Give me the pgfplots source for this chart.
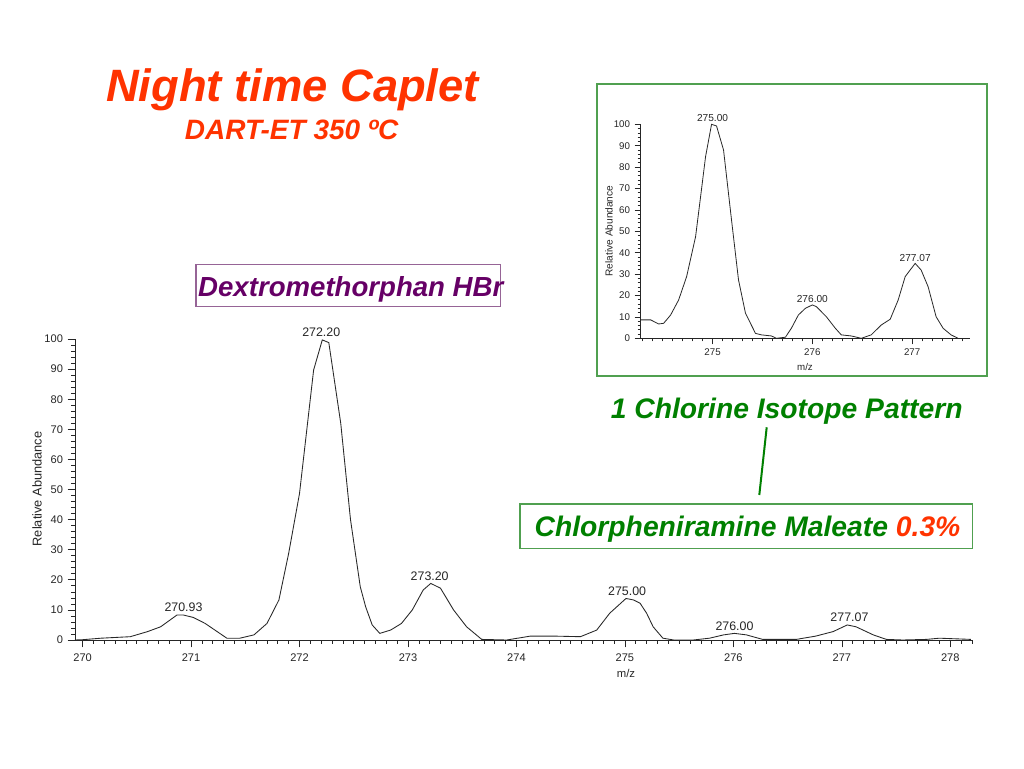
\documentclass[border=0pt]{standalone}
\usepackage{pgfplots}
\pgfplotsset{compat=1.18}
\usepackage{fontspec}
\setmainfont{Liberation Sans}
\definecolor{titlered}{RGB}{255,51,0}
\definecolor{dgreen}{RGB}{0,128,0}
\definecolor{boxgreen}{RGB}{80,160,80}
\definecolor{dpurple}{RGB}{102,0,102}
\definecolor{boxpurple}{RGB}{150,100,150}
\definecolor{specline}{RGB}{40,40,40}

\pgfplotstableread{
x y
269.93 0
270.00 0.1
270.17 0.6
270.44 1.1
270.60 2.8
270.72 4.4
270.87 8.3
270.93 8.3
271.02 7.5
271.13 5.5
271.33 0.6
271.45 0.6
271.58 1.7
271.70 5.5
271.81 13.3
271.90 28.8
272.00 48.7
272.13 89.7
272.21 99.7
272.27 98.8
272.33 84.2
272.38 72
272.47 40
272.56 17.7
272.61 11
272.67 5
272.74 2.2
272.84 3.3
272.94 5.5
273.04 10
273.14 16.6
273.21 18.8
273.30 17.2
273.42 10
273.54 4.4
273.68 0.2
273.91 0
274.13 1.3
274.34 1.3
274.59 1.1
274.74 3.3
274.86 8.9
275.01 13.8
275.08 13.3
275.14 12.2
275.20 8.9
275.26 4.4
275.35 0.6
275.45 0
275.63 0
275.78 0.6
275.91 1.7
276.01 2.2
276.12 1.7
276.27 0.2
276.58 0.2
276.76 1.3
276.92 2.8
277.05 5
277.13 4.4
277.29 1.7
277.41 0.2
277.56 0
277.78 0.2
277.90 0.6
278.19 0.2
}\mainspec

\pgfplotstableread{
x y
274.28 8.6
274.38 8.6
274.46 6.7
274.51 7.0
274.58 10.9
274.66 17.9
274.74 28.8
274.83 47.5
274.93 84.9
274.99 100
275.04 99.2
275.11 88
275.19 55.3
275.26 27.3
275.33 11.7
275.43 2.3
275.49 1.6
275.59 1.1
275.64 0
275.73 0.5
275.79 4.7
275.86 10.9
275.93 14
276.00 15.6
276.04 14.8
276.14 10.1
276.23 4.7
276.29 1.6
276.39 1.1
276.49 0
276.59 1.6
276.69 6.2
276.78 8.9
276.86 17.9
276.93 28.8
277.03 35
277.09 31.9
277.16 24.1
277.24 10.1
277.31 4.7
277.39 1.6
277.46 0
}\insetspec

\begin{document}
\begin{tikzpicture}
\begin{scope}[x=0.75pt,y=0.75pt]
\path[use as bounding box, fill=white] (0,0) rectangle (1024,768);

% titles
\node[anchor=base, text=titlered, font=\fontsize{34}{40}\selectfont\bfseries\itshape, inner sep=0pt] at (292.5,{768-101.7}) {Night time Caplet};
\node[anchor=base, text=titlered, font=\fontsize{21}{25}\selectfont\bfseries\itshape, inner sep=0pt] at (291.7,{768-139.3}) {DART-ET 350 ºC};

% Dextromethorphan box
\draw[boxpurple, line width=0.9] (196,{768-264.3}) rectangle (500.7,{768-306.7});
\node[anchor=base, text=dpurple, font=\fontsize{20.7}{25}\selectfont\bfseries\itshape, inner sep=0pt] at (350.8,{768-296.7}) {Dextromethorphan HBr};

% Chlorine pattern text and line
\node[anchor=base, text=dgreen, font=\fontsize{21.2}{25}\selectfont\bfseries\itshape, inner sep=0pt] at (786.7,{768-418.3}) {1 Chlorine Isotope Pattern};
\draw[dgreen, line width=1.5] (766.7,{768-427.3}) -- (759.3,{768-495});
\draw[boxgreen, line width=1] (520,{768-504}) rectangle (972.7,{768-548.3});
\node[anchor=base, font=\fontsize{21.2}{25}\selectfont\bfseries\itshape, inner sep=0pt] at (747.5,{768-536.7}) {\textcolor{dgreen}{Chlorpheniramine Maleate }\textcolor{titlered}{0.3\%}};

% inset frame
\draw[boxgreen, line width=1.2] (597,{768-84}) rectangle (987,{768-376});

% axis labels
\node[rotate=90, font=\fontsize{9.6}{11}\selectfont, text=black!85] at (37,{768-489}) {Relative Abundance};
\node[font=\fontsize{8.5}{10}\selectfont, text=black!85] at (626,{768-673}) {m/z};
\node[rotate=90, font=\fontsize{7.6}{9}\selectfont, text=black!85] at (609,{768-231}) {Relative Abundance};
\node[font=\fontsize{7.3}{9}\selectfont, text=black!85] at (805,{768-367}) {m/z};
\end{scope}

% main spectrum
\begin{axis}[
  at={(56.25pt,96pt)}, anchor=south west, scale only axis,
  width=672.75pt, height=225.75pt,
  xmin=269.93, xmax=278.2, ymin=0, ymax=100,
  axis lines=left, axis line style={-, black!85, line width=0.6pt},
  tick align=outside,
  xtick={270,271,...,278}, ytick={0,10,...,100},
  minor xtick={269.9,270.0,...,278.2},
  minor ytick={0,2,...,100},
  major tick length=5.5pt, minor tick length=2.8pt,
  every tick/.style={black!85, line width=0.5pt},
  tick label style={font=\fontsize{8.3}{10}\selectfont, text=black!85},
  /pgf/number format/assume math mode=true,
  xticklabel style={yshift=-1pt},
  clip=false,
]
\addplot[specline, line width=0.65pt, mark=none] table[x=x,y=y] {\mainspec};
\begin{scope}[every node/.style={anchor=south, font=\fontsize{9.3}{11}\selectfont, text=black!85, inner sep=2pt}]
\node at (axis cs:270.93,8.3) {270.93};
\node at (axis cs:272.20,99.7) {272.20};
\node at (axis cs:273.20,18.8) {273.20};
\node at (axis cs:275.02,13.8) {275.00};
\node at (axis cs:276.01,2.2) {276.00};
\node at (axis cs:277.07,5.0) {277.07};
\end{scope}
\end{axis}

% inset spectrum
\begin{axis}[
  at={(480.525pt,322.275pt)}, anchor=south west, scale only axis,
  width=247pt, height=160.5pt,
  xmin=274.28, xmax=277.58, ymin=0, ymax=100,
  axis lines=left, axis line style={-, black!85, line width=0.6pt},
  tick align=outside,
  xtick={275,276,277}, ytick={0,10,...,100},
  minor xtick={274.3,274.4,...,277.6},
  minor ytick={0,2,...,100},
  major tick length=4.5pt, minor tick length=2.3pt,
  every tick/.style={black!85, line width=0.5pt},
  tick label style={font=\fontsize{7.3}{9}\selectfont, text=black!85},
  /pgf/number format/assume math mode=true,
  clip=false,
]
\addplot[specline, line width=0.6pt, mark=none] table[x=x,y=y] {\insetspec};
\begin{scope}[every node/.style={anchor=south, font=\fontsize{7.6}{9}\selectfont, text=black!85, inner sep=1.5pt}]
\node at (axis cs:275.00,100) {275.00};
\node at (axis cs:276.00,15.6) {276.00};
\node at (axis cs:277.03,35) {277.07};
\end{scope}
\end{axis}
\end{tikzpicture}
\end{document}
